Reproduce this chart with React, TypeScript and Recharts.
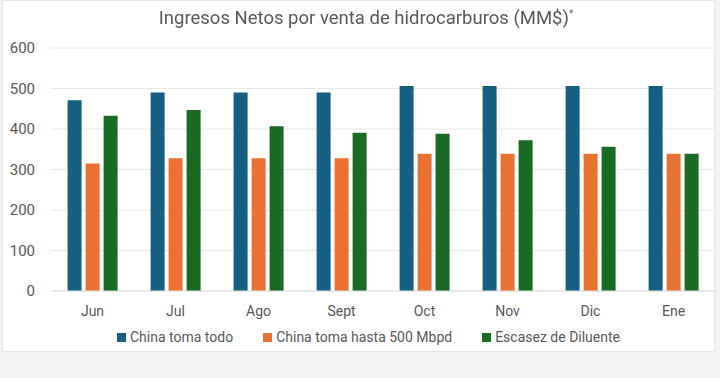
import { BarChart, Bar, XAxis, YAxis, CartesianGrid, Legend } from 'recharts';

const MONTHS = ['Jun', 'Jul', 'Ago', 'Sept', 'Oct', 'Nov', 'Dic', 'Ene'];
const CHINA_TODO = [471, 490, 490, 490, 506, 506, 506, 506];
const CHINA_500 = [315, 328, 328, 328, 339, 339, 339, 339];
const ESCASEZ = [433, 447, 407, 391, 388, 372, 356, 339];
const Y_TICKS = [0, 100, 200, 300, 400, 500, 600];

const SERIES = [
  { key: 'todo', name: 'China toma todo', color: '#156082' },
  { key: 'c500', name: 'China toma hasta 500 Mbpd', color: '#E97132' },
  { key: 'esc', name: 'Escasez de Diluente', color: '#196B24' },
];

const data = MONTHS.map((m, i) => ({
  month: m,
  todo: CHINA_TODO[i],
  c500: CHINA_500[i],
  esc: ESCASEZ[i],
}));

const FONT = 'Roboto, "Liberation Sans", sans-serif';
const TEXT = '#595959';

function LegendBox() {
  return (
    <div style={{ display: 'flex', justifyContent: 'center', gap: 30, paddingLeft: 16, fontFamily: FONT, fontSize: 14, color: TEXT }}>
      {SERIES.map(s => (
        <div key={s.key} style={{ display: 'flex', alignItems: 'center' }}>
          <span style={{ width: 9, height: 9, background: s.color, marginRight: 4, display: 'inline-block' }} />
          {s.name}
        </div>
      ))}
    </div>
  );
}

export default function App() {
  return (
    <div style={{ position: 'fixed', left: 0, top: 0, width: 720, height: 378, background: '#f3f3f3' }}>
      <div style={{ position: 'absolute', left: 2, top: 0, width: 713, height: 352, background: '#fff', border: '1px solid #e4e4e4', boxSizing: 'border-box' }} />
      <div style={{ position: 'absolute', left: 0, top: 0 }}>
        <BarChart
          width={718}
          height={353}
          data={data}
          margin={{ top: 48, right: 3, left: 6, bottom: 4 }}
          barCategoryGap="20%"
          barGap={4}
        >
          <CartesianGrid vertical={false} stroke="#e8e8e8" />
          <XAxis
            dataKey="month"
            axisLine={{ stroke: '#e0e0e0' }}
            tickLine={false}
            tickMargin={9}
            height={38}
            tick={{ fontSize: 14, fill: TEXT, fontFamily: FONT }}
          />
          <YAxis
            width={45}
            domain={[0, 600]}
            ticks={Y_TICKS}
            axisLine={false}
            tickLine={false}
            tickMargin={10}
            tick={{ fontSize: 15, fill: TEXT, fontFamily: FONT }}
          />
          <Legend verticalAlign="bottom" height={20} content={() => <LegendBox />} />
          {SERIES.map(s => (
            <Bar key={s.key} dataKey={s.key} name={s.name} fill={s.color} isAnimationActive={false} />
          ))}
        </BarChart>
      </div>
      <div style={{ position: 'absolute', left: 0, width: 732, top: 7, textAlign: 'center', fontFamily: FONT, fontSize: 18.5, color: TEXT }}>
        Ingresos Netos por venta de hidrocarburos (MM$)<sup style={{ fontSize: 10 }}>*</sup>
      </div>
    </div>
  );
}
